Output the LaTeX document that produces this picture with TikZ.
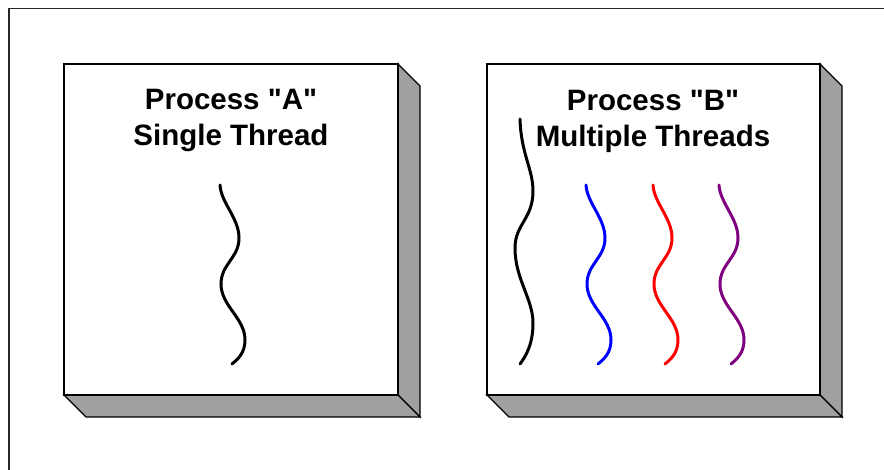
\documentclass[tikz,border=0pt]{standalone}
\usepackage{fontspec}
\setmainfont{Liberation Sans}[Ligatures=TeXOff]
\definecolor{sidegray}{RGB}{160,160,160}
\definecolor{threadpurple}{RGB}{128,0,128}
\tikzset{
  frontface/.style={draw=black, line width=1.3pt, fill=white},
  sideface/.style={draw=black, line width=1.3pt, fill=sidegray, line join=miter},
  thread/.style={line width=3pt, line cap=round},
  title/.style={font=\bfseries\fontsize{29.5}{35}\selectfont, anchor=base, inner sep=0pt},
  frameline/.style={draw=black!85, line width=1.4pt}
}
\begin{document}
\begin{tikzpicture}[x=1pt, y=-1pt]
\useasboundingbox (0,0) rectangle (884,470);
\fill[white] (0,0) rectangle (884,470);
% outer frame (only top and left visible)
\draw[frameline] (9,475) -- (9,8.5) -- (890,8.5);

% ---- Process A box ----
\draw[sideface] (398,64) -- (420,86) -- (420,417) -- (398,395) -- cycle;
\draw[sideface] (64,395) -- (398,395) -- (420,417) -- (86,417) -- cycle;
\draw[frontface] (64,64) rectangle (398,395);
\node[title] (tA1) at (231,110) {Process "A"};
\node[title] (tA2) at (231,146) {Single Thread};

% ---- Process B box ----
\draw[sideface] (820,64) -- (842,86) -- (842,417) -- (820,395) -- cycle;
\draw[sideface] (487,395) -- (820,395) -- (842,417) -- (509,417) -- cycle;
\draw[frontface] (487,64) rectangle (820,395);
\node[title] (tB1) at (653,111) {Process "B"};
\node[title] (tB2) at (653,147) {Multiple Threads};

% ---- short threads (A, and blue/red/purple in B) ----
\foreach \px/\col in {220/black, 586/blue, 653/red, 719/threadpurple}
  \draw[thread, \col, shift={(\px,185)}]
    (0,0) .. controls (1,18) and (19,33) .. (19,53)
          .. controls (19,73) and (1,79) .. (1,99)
          .. controls (1,121) and (25,133) .. (25,155)
          .. controls (25,168) and (18,174) .. (12,179);

% ---- long black thread in B ----
\draw[thread, black, shift={(520,119)}]
    (0,0) .. controls (1,35) and (13,50) .. (13,72)
          .. controls (13,100) and (-5,105) .. (-5,129)
          .. controls (-5,160) and (13,180) .. (13,204)
          .. controls (13,225) and (6,237) .. (0,245);
\end{tikzpicture}
\end{document}
